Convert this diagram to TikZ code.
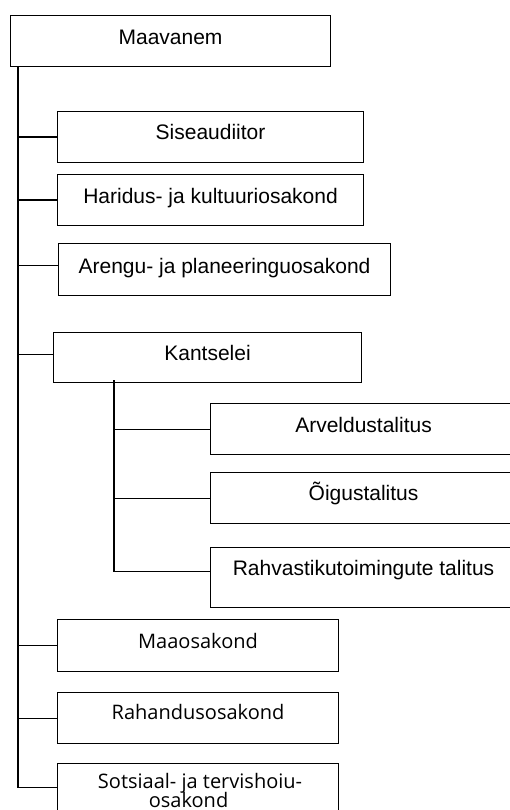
\documentclass[tikz,border=0pt]{standalone}
\usepackage{fontspec}
\setmainfont{Liberation Sans}
\newfontfamily\hfont{Open Sans}
\begin{document}
\begin{tikzpicture}[x=1pt,y=-1pt,
  box/.style={draw, line width=1.1pt, anchor=north west, inner sep=0pt},
  txt/.style={anchor=base, inner sep=0pt, font=\fontsize{21}{24}\selectfont},
  htxt/.style={anchor=base, inner sep=0pt, font=\hfont\fontsize{20}{22}\selectfont},
  conn/.style={draw, line width=1.1pt}]
\useasboundingbox (0,0) rectangle (510,810);
\clip (0,0) rectangle (510,810);
% boxes
\node[box, minimum width=320pt, minimum height=51pt] (m)  at (10,15)  {};
\node[box, minimum width=306pt, minimum height=51pt] (s)  at (57,111) {};
\node[box, minimum width=306pt, minimum height=51pt] (h)  at (57,174) {};
\node[box, minimum width=332pt, minimum height=52pt] (a)  at (58,243) {};
\node[box, minimum width=308pt, minimum height=50pt] (k)  at (53,332) {};
\node[box, minimum width=306pt, minimum height=51pt] (ar) at (210,403) {};
\node[box, minimum width=306pt, minimum height=51pt] (oi) at (210,472) {};
\node[box, minimum width=306pt, minimum height=60pt] (rv) at (210,547) {};
\node[box, minimum width=281pt, minimum height=52pt] (mo) at (57,619) {};
\node[box, minimum width=281pt, minimum height=51pt] (ra) at (57,692) {};
\node[box, minimum width=281pt, minimum height=48pt] (so) at (57,763) {};
% texts
\node[txt] (mt)  at ([yshift=-30pt]m.north)  {Maavanem};
\node[txt] (st)  at ([yshift=-29pt]s.north)  {Siseaudiitor};
\node[txt] (ht)  at ([yshift=-30pt]h.north)  {Haridus- ja kultuuriosakond};
\node[txt] (at)  at ([yshift=-30pt]a.north)  {Arengu- ja planeeringuosakond};
\node[txt] (kt)  at ([yshift=-28pt]k.north)  {Kantselei};
\node[txt] (art) at ([yshift=-29pt]ar.north) {Arveldustalitus};
\node[txt] (oit) at ([yshift=-28pt]oi.north) {Õigustalitus};
\node[txt] (rvt) at ([yshift=-28pt]rv.north) {Rahvastikutoimingute talitus};
\node[htxt] (mot) at ([yshift=-29pt]mo.north) {Maaosakond};
\node[htxt] (rat) at ([yshift=-27pt]ra.north) {Rahandusosakond};
\node[htxt] (sot1) at ([xshift=2pt,yshift=-25pt]so.north) {Sotsiaal- ja tervishoiu-};
\node[htxt] (sot2) at ([xshift=-9.5pt,yshift=-44pt]so.north) {osakond};
% connectors
\coordinate (T) at ([xshift=8pt]m.south west);
\coordinate (U) at ([xshift=61pt,yshift=3pt]k.south west);
\draw[conn] (T) |- (so.west);
\draw[conn] (s.west) -- (s.west -| T);
\draw[conn] (h.west) -- (h.west -| T);
\draw[conn] ([yshift=4pt]a.west) -- ([yshift=4pt]a.west -| T);
\draw[conn] ([yshift=3pt]k.west) -- ([yshift=3pt]k.west -| T);
\draw[conn] (mo.west) -- (mo.west -| T);
\draw[conn] (ra.west) -- (ra.west -| T);
\draw[conn] (U) |- ([yshift=6pt]rv.west);
\draw[conn] (ar.west) -- (ar.west -| U);
\draw[conn] (oi.west) -- (oi.west -| U);
\end{tikzpicture}
\end{document}
